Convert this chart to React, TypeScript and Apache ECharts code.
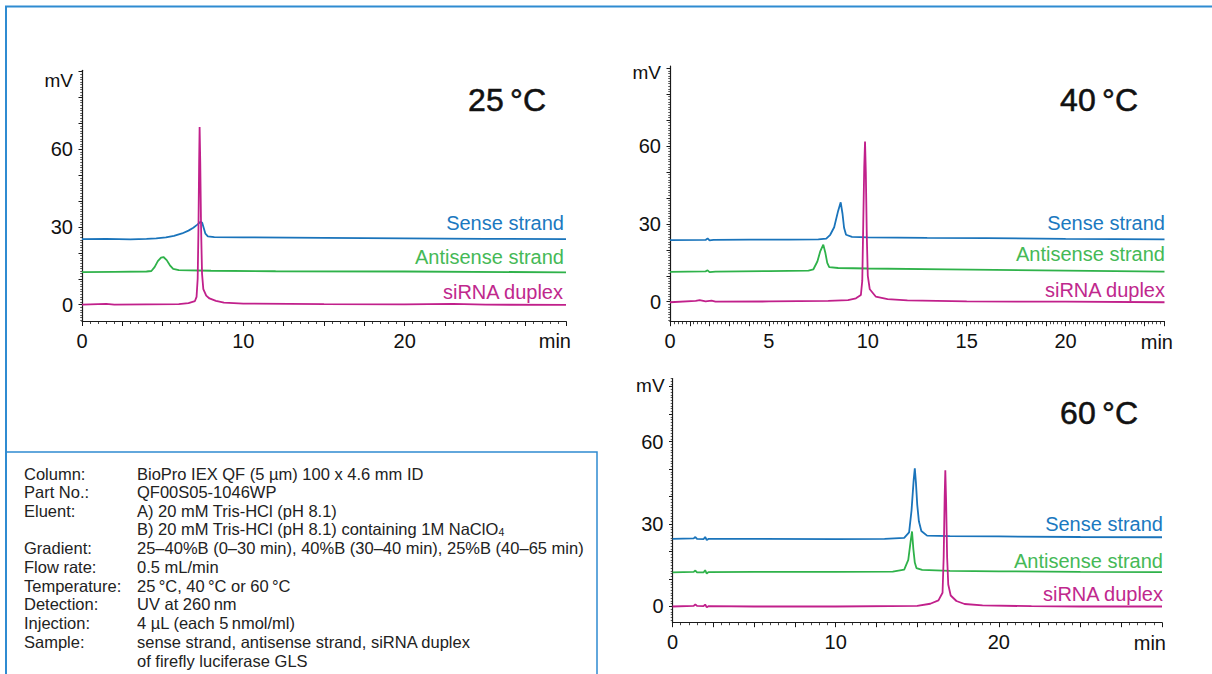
import React, { useEffect, useRef } from "react";
import * as echarts from "echarts";

// ---------- DATA ----------
// [retention time (min), signal (mV)]
const sense25: [number, number][] = [
  [0, 25.3], [1.5, 25.4], [3, 25.2], [4, 25.4], [4.6, 25.6], [5.2, 26.0], [5.7, 26.6],
  [6.2, 27.5], [6.6, 28.6], [6.9, 29.7], [7.15, 30.9], [7.35, 32.0], [7.45, 31.6],
  [7.55, 29.5], [7.65, 27.4], [7.8, 26.4], [8.2, 26.1], [10, 26.0], [15, 25.8],
  [20, 25.6], [25, 25.4], [30, 25.3],
];
const antisense25: [number, number][] = [
  [0, 12.6], [2, 12.7], [4, 12.8], [4.3, 13.0], [4.5, 14.5], [4.7, 16.8], [4.9, 18.2],
  [5.05, 18.4], [5.25, 17.2], [5.45, 15.2], [5.65, 13.8], [6, 13.3], [8, 13.1],
  [12, 12.9], [20, 12.8], [30, 12.5],
];
const duplex25: [number, number][] = [
  [0, 0], [1.5, 0.3], [2, 0], [4, 0.1], [6, 0.2], [6.6, 0.6], [7.0, 1.4], [7.1, 3],
  [7.17, 10], [7.22, 30], [7.26, 55], [7.29, 68.6], [7.33, 55], [7.38, 30], [7.44, 12],
  [7.52, 6], [7.7, 3.5], [7.9, 2.4], [8.3, 1.5], [8.8, 0.8], [10, 0.4], [15, 0.2],
  [20, 0.1], [23, 0.3], [25, 0], [30, -0.1],
];

const sense40: [number, number][] = [
  [0, 23.7], [1.8, 23.8], [1.9, 24.4], [2.0, 23.6], [2.2, 23.8], [4, 23.9], [6, 23.9],
  [7.5, 24.0], [7.9, 24.3], [8.1, 25.8], [8.3, 28.7], [8.5, 35.0], [8.63, 38.3],
  [8.72, 34], [8.8, 28.5], [8.9, 25.8], [9.2, 25.0], [10, 24.8], [13, 24.6],
  [16, 24.5], [20, 24.2], [25, 24.0],
];
const antisense40: [number, number][] = [
  [0, 11.5], [1.8, 11.7], [1.9, 12.1], [2.0, 11.4], [2.3, 11.6], [5, 11.8], [7.0, 12.0],
  [7.25, 12.5], [7.45, 15.5], [7.6, 19.5], [7.75, 22.0], [7.85, 19], [7.95, 15],
  [8.05, 13.3], [8.5, 13.0], [10, 12.8], [14, 12.5], [20, 12.0], [25, 11.6],
];
const duplex40: [number, number][] = [
  [0, -0.2], [1.3, 0.3], [1.5, 0.6], [1.8, 0.1], [2.1, 0.4], [2.3, 0], [5, 0.1], [8, 0.3],
  [9.0, 0.6], [9.4, 1.3], [9.65, 2.6], [9.72, 8], [9.77, 30], [9.82, 52], [9.86, 61.7],
  [9.9, 50], [9.95, 25], [10.0, 10], [10.1, 4.8], [10.4, 2.0], [11, 1.0], [12, 0.5],
  [15, 0.1], [20, 0], [25, -0.2],
];

const sense60: [number, number][] = [
  [0, 24.6], [1.3, 24.8], [1.4, 25.3], [1.5, 24.6], [1.9, 24.5], [2.0, 25.3], [2.1, 24.2],
  [2.2, 24.6], [5, 24.6], [10, 24.5], [13, 24.6], [14.2, 25.0], [14.5, 27], [14.65, 35],
  [14.78, 46], [14.85, 50.3], [14.92, 45], [15.0, 37], [15.1, 31], [15.25, 27.5],
  [15.6, 25.8], [17, 25.6], [20, 25.5], [25, 25.3], [30, 25.2],
];
const antisense60: [number, number][] = [
  [0, 12.4], [1.3, 12.6], [1.4, 13.1], [1.5, 12.4], [1.9, 12.4], [2.0, 13.2], [2.1, 12.0],
  [2.2, 12.5], [5, 12.6], [10, 12.6], [13.5, 12.7], [14.2, 13.4], [14.45, 17], [14.6, 24],
  [14.68, 27.3], [14.76, 21], [14.85, 16], [14.95, 14], [15.3, 13.3], [17, 13.0],
  [20, 12.8], [25, 12.6], [30, 12.5],
];
const duplex60: [number, number][] = [
  [0, 0], [1.3, 0.2], [1.4, 0.8], [1.5, 0.2], [1.9, 0.1], [2.0, 0.7], [2.1, -0.3],
  [2.2, 0.1], [5, 0], [10, 0], [15, 0.2], [15.8, 1.0], [16.3, 2.2], [16.55, 5],
  [16.62, 18], [16.68, 40], [16.72, 49.6], [16.77, 38], [16.83, 18], [16.9, 8],
  [17.05, 4], [17.4, 2], [17.9, 0.9], [19, 0.4], [22, 0.1], [25, 0], [30, 0],
];

const seriesNames = ["Sense strand", "Antisense strand", "siRNA duplex"];
const panelTitles = ["25\u2009°C", "40\u2009°C", "60\u2009°C"];
const xLabels25 = [0, 10, 20];
const xLabels40 = [0, 5, 10, 15, 20];
const xLabels60 = [0, 10, 20];
const yLabels = [0, 30, 60];

const infoRows: [string, string][] = [
  ["Column:", "BioPro IEX QF (5 µm) 100 x 4.6 mm ID"],
  ["Part No.:", "QF00S05-1046WP"],
  ["Eluent:", "A) 20 mM Tris-HCl (pH 8.1)"],
  ["", "B) 20 mM Tris-HCl (pH 8.1) containing 1M NaClO{s|4}"],
  ["Gradient:", "25–40%B (0–30 min), 40%B (30–40 min), 25%B (40–65 min)"],
  ["Flow rate:", "0.5 mL/min"],
  ["Temperature:", "25\u2009°C, 40\u2009°C or 60\u2009°C"],
  ["Detection:", "UV at 260\u2009nm"],
  ["Injection:", "4 µL (each 5\u2009nmol/ml)"],
  ["Sample:", "sense strand, antisense strand, siRNA duplex"],
  ["", "of firefly luciferase GLS"],
];

// ---------- STYLE / LAYOUT ----------
const FONT = "'Liberation Sans', Arial, Helvetica, sans-serif";
const LINE_COLORS = ["#1a74bb", "#2fb24a", "#c1208b"];
const TEXT_COLORS = ["#1b79c0", "#45b956", "#c0288d"];
const BORDER = "#2f8bd1";
const AXIS = "#1a1a1a";

function steps(a: number, b: number, step: number): number[] {
  const n = Math.round((b - a) / step);
  const out: number[] = [];
  for (let i = 0; i <= n; i++) out.push(+(a + i * step).toFixed(4));
  return out;
}

const panels = [
  {
    grid: { left: 82, top: 70.3, width: 484, height: 251.2 },
    xMax: 30, xLabels: xLabels25, xMid: 2.5, xMinor: 0.5,
    yMin: -6.5, yMax: 90.5,
    data: [sense25, antisense25, duplex25],
    title: { x: 546, y: 100 },
    mv: { x: 73, y: 80.5 },
    min: { x: 571, y: 341 },
    names: [{ x: 564, y: 222.7 }, { x: 564, y: 256.7 }, { x: 563, y: 292.3 }],
  },
  {
    grid: { left: 670, top: 66.1, width: 494.5, height: 255.6 },
    xMax: 25, xLabels: xLabels40, xMid: 1, xMinor: 0.2,
    yMin: -7.7, yMax: 90.8,
    data: [sense40, antisense40, duplex40],
    title: { x: 1138, y: 100 },
    mv: { x: 661, y: 72.7 },
    min: { x: 1173, y: 342 },
    names: [{ x: 1165, y: 222.7 }, { x: 1165, y: 254.3 }, { x: 1165, y: 290 }],
  },
  {
    grid: { left: 672.5, top: 378.5, width: 489.5, height: 244.2 },
    xMax: 30, xLabels: xLabels60, xMid: 2.5, xMinor: 0.5,
    yMin: -5.9, yMax: 83,
    data: [sense60, antisense60, duplex60],
    title: { x: 1138, y: 412.7 },
    mv: { x: 664.6, y: 385 },
    min: { x: 1166, y: 642.5 },
    names: [{ x: 1163, y: 524 }, { x: 1163, y: 560.7 }, { x: 1163, y: 594 }],
  },
];

function buildOption() {
  const grid: any[] = [];
  const xAxis: any[] = [];
  const yAxis: any[] = [];
  const series: any[] = [];
  const graphic: any[] = [];

  panels.forEach((p, gi) => {
    grid.push({ ...p.grid, containLabel: false });
    const xa = xAxis.length;
    xAxis.push({
      type: "value", gridIndex: gi, min: 0, max: p.xMax, position: "bottom",
      splitLine: { show: false },
      axisLine: { show: true, onZero: false, lineStyle: { color: AXIS, width: 1.2 } },
      axisTick: { show: true, length: 4.5, customValues: steps(0, p.xMax, p.xMid), lineStyle: { color: AXIS, width: 1 } },
      axisLabel: { show: true, customValues: p.xLabels, margin: 9, fontSize: 20, color: "#111", fontFamily: FONT },
    });
    xAxis.push({
      type: "value", gridIndex: gi, min: 0, max: p.xMax, position: "bottom",
      splitLine: { show: false },
      axisLine: { show: false, onZero: false },
      axisTick: { show: true, length: 2.5, customValues: steps(0, p.xMax, p.xMinor), lineStyle: { color: AXIS, width: 0.8 } },
      axisLabel: { show: false },
    });
    const ya = yAxis.length;
    yAxis.push({
      type: "value", gridIndex: gi, min: p.yMin, max: p.yMax, position: "left",
      splitLine: { show: false },
      axisLine: { show: true, onZero: false, lineStyle: { color: AXIS, width: 1.2 } },
      axisTick: { show: true, length: 3.5, customValues: steps(0, Math.floor(p.yMax / 10) * 10, 10), lineStyle: { color: AXIS, width: 1 } },
      axisLabel: { show: true, customValues: yLabels, margin: 9, fontSize: 20, color: "#111", fontFamily: FONT },
    });
    yAxis.push({
      type: "value", gridIndex: gi, min: p.yMin, max: p.yMax, position: "left",
      splitLine: { show: false },
      axisLine: { show: false, onZero: false },
      axisTick: { show: true, length: 1.8, customValues: steps(Math.ceil(p.yMin), Math.floor(p.yMax), 1), lineStyle: { color: AXIS, width: 0.7 } },
      axisLabel: { show: false },
    });

    p.data.forEach((d, si) => {
      series.push({
        type: "line", name: `${seriesNames[si]} ${panelTitles[gi]}`,
        xAxisIndex: xa, yAxisIndex: ya, data: d,
        showSymbol: false, symbol: "none", smooth: false,
        lineStyle: { color: LINE_COLORS[si], width: 1.8 },
        z: si === 2 ? 4 : 3,
      });
      graphic.push({
        type: "text", x: p.names[si].x, y: p.names[si].y,
        style: { text: seriesNames[si], align: "right", verticalAlign: "middle", fontSize: 20, fontFamily: FONT, fill: TEXT_COLORS[si] },
      });
    });

    graphic.push({
      type: "text", x: p.title.x, y: p.title.y,
      style: {
        text: panelTitles[gi], align: "right", verticalAlign: "middle", fontSize: 32, fontFamily: FONT,
        fill: "#111", stroke: "#111", lineWidth: 0.55,
      },
    });
    graphic.push({
      type: "text", x: p.mv.x, y: p.mv.y,
      style: { text: "mV", align: "right", verticalAlign: "middle", fontSize: 19, fontFamily: FONT, fill: "#111" },
    });
    graphic.push({
      type: "text", x: p.min.x, y: p.min.y,
      style: { text: "min", align: "right", verticalAlign: "middle", fontSize: 20, fontFamily: FONT, fill: "#111" },
    });
  });

  // frame
  graphic.push({
    type: "polyline", shape: { points: [[6, 674], [6, 6.5], [1212, 6.5]] },
    style: { stroke: BORDER, lineWidth: 2, fill: null },
  });
  graphic.push({
    type: "polyline", shape: { points: [[6, 452], [597, 452], [597, 674]] },
    style: { stroke: BORDER, lineWidth: 1.5, fill: null },
  });

  infoRows.forEach((row, i) => {
    const y = 473.5 + i * 18.7;
    if (row[0]) {
      graphic.push({
        type: "text", x: 24, y,
        style: { text: row[0], verticalAlign: "middle", fontSize: 16.5, fontFamily: FONT, fill: "#222" },
      });
    }
    const hasSub = row[1].includes("{s|");
    graphic.push({
      type: "text", x: 137, y,
      style: {
        text: hasSub ? `{n|${row[1].replace("{s|4}", "")}}{s|4}` : row[1],
        verticalAlign: "middle", fontSize: 16.5, fontFamily: FONT, fill: "#222",
        rich: {
          n: { fontSize: 16.5, fontFamily: FONT, fill: "#222", lineHeight: 16, verticalAlign: "bottom" },
          s: { fontSize: 10.5, fontFamily: FONT, fill: "#222", lineHeight: 4, verticalAlign: "bottom" },
        },
      },
    });
  });

  return { animation: false, grid, xAxis, yAxis, series, graphic };
}

export default function App() {
  const ref = useRef<HTMLDivElement>(null);
  useEffect(() => {
    if (!ref.current) return;
    const chart = echarts.init(ref.current, null, { renderer: "svg" });
    chart.setOption(buildOption() as any);
    return () => chart.dispose();
  }, []);
  return (
    <div
      ref={ref}
      style={{ position: "absolute", left: 0, top: 0, width: 1212, height: 674, background: "#fff" }}
    />
  );
}
